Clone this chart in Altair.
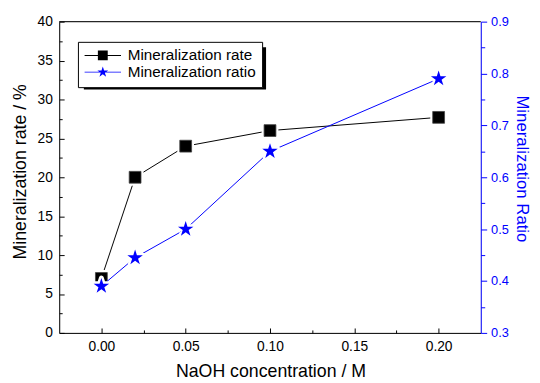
import altair as alt
import pandas as pd

# ---- data ----
naoh = [0.00, 0.02, 0.05, 0.10, 0.20]
rate = [7.0, 20.0, 24.0, 26.0, 27.7]
ratio = [0.39, 0.445, 0.50, 0.65, 0.79]
series_names = ["Mineralization rate", "Mineralization ratio"]
x_ticks = [0.0, 0.025, 0.05, 0.075, 0.1, 0.125, 0.15, 0.175, 0.2]
left_ticks = [0, 2.5, 5, 7.5, 10, 12.5, 15, 17.5, 20, 22.5, 25, 27.5, 30, 32.5, 35, 37.5, 40]
right_ticks = [0.3, 0.35, 0.4, 0.45, 0.5, 0.55, 0.6, 0.65, 0.7, 0.75, 0.8, 0.85, 0.9]

df = pd.DataFrame({"x": naoh, "rate": rate, "ratio": ratio})
one = pd.DataFrame({"k": [0]})

W, H = 428, 316
FONT = "Liberation Sans"
BLUE = "#0000ff"

STAR = ("M0,-1L0.2245,-0.309L0.951,-0.309L0.363,0.118L0.588,0.809L0,0.382"
        "L-0.588,0.809L-0.363,0.118L-0.951,-0.309L-0.2245,-0.309Z")
RATE_SYM = "M-3.36,-0.09H3.36V0.09H-3.36ZM-0.91,-0.91H0.91V0.91H-0.91Z"
RATIO_SYM = ("M-3.36,-0.09H3.36V0.09H-3.36Z"
             "M0,-1.05L0.236,-0.324L0.999,-0.324L0.381,0.124L0.617,0.849L0,0.401"
             "L-0.617,0.849L-0.381,0.124L-0.999,-0.324L-0.236,-0.324Z")

x_enc = alt.X(
    "x:Q",
    scale=alt.Scale(domain=[-0.025, 0.225], nice=False, zero=False),
    axis=alt.Axis(
        values=x_ticks,
        title="NaOH concentration / M",
        labelExpr="abs(datum.value*20 - round(datum.value*20)) < 0.001 ? format(datum.value, '.2f') : ''",
        tickSize=alt.ExprRef(expr="abs(datum.value*20 - round(datum.value*20)) < 0.001 ? -5 : -3"),
        labelPadding=12,
        labelFontSize=14,
        labelColor="black",
        labelFont=FONT,
        titleFont=FONT,
        titleFontSize=18,
        titleFontWeight="normal",
        titleColor="black",
        titleBaseline="alphabetic",
        titleX=214.5,
        titleY=44,
        domainColor="black",
        tickColor="black",
        grid=False,
        labelFlush=False,
        labelOverlap=False,
    ),
)

y_left = alt.Y(
    "rate:Q",
    scale=alt.Scale(domain=[0, 40], nice=False, zero=False),
    axis=alt.Axis(
        orient="left",
        values=left_ticks,
        title="Mineralization rate / %",
        labelExpr="datum.value % 5 === 0 ? datum.label : ''",
        tickSize=alt.ExprRef(expr="datum.value % 5 === 0 ? -5 : -3"),
        labelPadding=12,
        labelFontSize=14,
        labelColor="black",
        labelFont=FONT,
        titleFont=FONT,
        titleFontSize=18,
        titleFontWeight="normal",
        titleColor="black",
        titleBaseline="alphabetic",
        titleX=-34,
        titleY=152,
        domainColor="black",
        tickColor="black",
        grid=False,
        labelOverlap=False,
    ),
)

y_right = alt.Y(
    "ratio:Q",
    scale=alt.Scale(domain=[0.3, 0.9], nice=False, zero=False),
    axis=alt.Axis(
        orient="right",
        values=right_ticks,
        title="Mineralization Ratio",
        labelExpr="abs(datum.value*10 - round(datum.value*10)) < 0.001 ? format(datum.value, '.1f') : ''",
        tickSize=alt.ExprRef(expr="abs(datum.value*10 - round(datum.value*10)) < 0.001 ? 6 : 4"),
        labelPadding=4,
        labelFontSize=13,
        labelColor=BLUE,
        labelFont=FONT,
        titleFont=FONT,
        titleFontSize=17,
        titleFontWeight="normal",
        titleColor=BLUE,
        titleBaseline="alphabetic",
        titleX=36,
        titleY=149,
        domainColor=BLUE,
        tickColor=BLUE,
        grid=False,
        labelOverlap=False,
    ),
)

base = alt.Chart(df)

# left (rate) layer
rate_line = base.mark_line(color="black", strokeWidth=1).encode(x=x_enc, y=y_left)
rate_halo = base.mark_point(shape="square", filled=True, fill="white", stroke="white",
                            strokeWidth=5, size=144, opacity=1).encode(x=x_enc, y=y_left)
rate_pts = base.mark_point(shape="square", filled=True, fill="black", stroke="#444",
                           strokeWidth=0.8, size=144, opacity=1).encode(x=x_enc, y=y_left)
left = alt.layer(rate_line, rate_halo, rate_pts)

# right (ratio) layer
ratio_line = base.mark_line(color=BLUE, strokeWidth=1).encode(x=x_enc, y=y_right)
ratio_halo = base.mark_point(shape=STAR, filled=True, fill="white", stroke="white",
                             strokeWidth=5, strokeJoin="round", size=272, opacity=1).encode(x=x_enc, y=y_right)
ratio_pts = base.mark_point(shape=STAR, filled=True, fill=BLUE, strokeWidth=0,
                            size=272, opacity=1).encode(x=x_enc, y=y_right)
right = alt.layer(ratio_line, ratio_halo, ratio_pts)

# frame top edge and legend shadow (decoration)
top_edge = alt.Chart(one).mark_rule(color="black", strokeWidth=1).encode(
    x=alt.value(0), x2=alt.value(W), y=alt.value(0))
shadow = alt.Chart(one).mark_rect(color="black", opacity=1).encode(
    x=alt.value(25), x2=alt.value(210), y=alt.value(26), y2=alt.value(69))

leg = alt.Legend(
    title=None,
    orient="none",
    legendX=19,
    legendY=20.5,
    padding=6,
    strokeColor="black",
    fillColor="white",
    labelFont=FONT,
    labelFontSize=15.5,
    labelColor="black",
    symbolSize=121,
    symbolStrokeWidth=0,
    symbolOffset=11.5,
    labelOffset=17.5,
    rowPadding=0,
    labelLimit=300,
)
legend_layer = alt.Chart(pd.DataFrame({"series": series_names})).transform_filter(
    "false").mark_point(filled=True, opacity=1, size=121).encode(
    shape=alt.Shape("series:N", scale=alt.Scale(domain=series_names, range=[RATE_SYM, RATIO_SYM]), legend=leg),
    color=alt.Color("series:N", scale=alt.Scale(domain=series_names, range=["black", BLUE]), legend=leg),
)

chart = alt.layer(shadow, top_edge, left, right, legend_layer).resolve_scale(
    y="independent"
).properties(
    width=W,
    height=H,
    autosize=alt.AutoSizeParams(type="none"),
    padding={"left": 52, "top": 11, "right": 52, "bottom": 48},
    background="white",
).configure_view(strokeWidth=0).configure(font=FONT)

chart.save("out.html", embed_options={"renderer": "svg", "actions": False})
